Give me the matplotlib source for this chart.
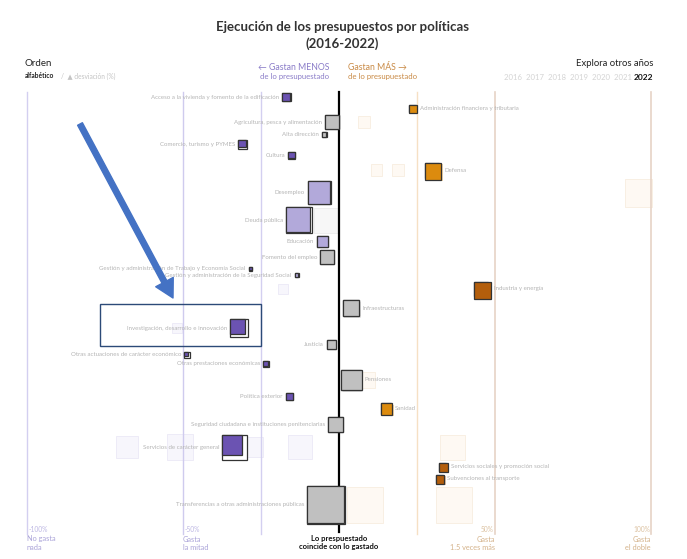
import numpy as np
import matplotlib
matplotlib.use('Agg')
from matplotlib import pyplot as plt
from matplotlib.patches import Rectangle

plt.rcParams['font.family'] = ['Lato', 'DejaVu Sans']

# datos 2022: desviación del gasto respecto a lo presupuestado (%)
categorias = [
    'Acceso a la vivienda y fomento de la edificación',
    'Administración financiera y tributaria',
    'Agricultura, pesca y alimentación',
    'Alta dirección',
    'Comercio, turismo y PYMES',
    'Cultura',
    'Defensa',
    'Desempleo',
    'Deuda pública',
    'Educación',
    'Fomento del empleo',
    'Gestión y administración de Trabajo y Economía Social',
    'Gestión y administración de la Seguridad Social',
    'Industria y energía',
    'Infraestructuras',
    'Investigación, desarrollo e innovación',
    'Justicia',
    'Otras actuaciones de carácter económico',
    'Otras prestaciones económicas',
    'Pensiones',
    'Política exterior',
    'Sanidad',
    'Seguridad ciudadana e instituciones penitenciarias',
    'Servicios de carácter general',
    'Servicios sociales y promoción social',
    'Subvenciones al transporte',
    'Transferencias a otras administraciones públicas',
]
desviacion = [-16.8, 23.6, -2.2, -4.8, -30.9, -15.2, 29.8, -6.2, -12.8, -5.3,
              -3.8, -28.4, -13.6, 45.4, 3.8, -32.0, -2.4, -48.7, -23.4, 4.0,
              -15.9, 15.1, -1.1, -33.5, 33.2, 32.2, -4.2]
# presupuesto (escala relativa, área del cuadrado)
presupuesto = [8, 5, 20, 2.5, 8, 5, 22, 53, 68, 12,
               20, 1.2, 1.6, 20, 25, 32, 8, 3.6, 3.6, 40,
               5.6, 10.6, 22, 62, 6, 6, 144]

# otros años (cuadros tenues)
otros_cat = ['Desempleo', 'Servicios de carácter general', 'Servicios de carácter general',
             'Servicios de carácter general', 'Servicios de carácter general',
             'Servicios de carácter general', 'Transferencias a otras administraciones públicas',
             'Transferencias a otras administraciones públicas', 'Defensa', 'Defensa',
             'Deuda pública', 'Agricultura, pesca y alimentación',
             'Investigación, desarrollo e innovación', 'Industria y energía', 'Pensiones']
otros_desv = [96, -68, -51, -27.6, -12.5, 36.5, 8.3, 37, 12, 19, -4, 8, -52, -18, 9]
otros_pres = [78, 48, 70, 40, 58, 62, 130, 130, 14, 14, 60, 14, 10, 10, 25]

anios = ['2016', '2017', '2018', '2019', '2020', '2021']
anio_actual = '2022'

# escala
PX = 3.12      # pixeles por punto porcentual
X0 = 339       # pixel del 0 %
W, H = 687, 559


def X(px):
    return (px - X0) / PX


def lado(p):
    return np.sqrt(np.array(p) * 10.0)


def color(d):
    if d <= -15:
        return '#6b53b2'
    elif d < -5:
        return '#b2a9da'
    elif d <= 5:
        return '#c0c0c0'
    elif d < 30:
        return '#dc8b0e'
    return '#b35e0c'


fig = plt.figure(figsize=(W / 100, H / 100), dpi=100)
ax = fig.add_axes([0, 0, 1, 1])
ax.set_xlim(X(0), X(W))
ax.set_ylim(H, 0)
ax.axis('off')

desv = np.array(desviacion)
lado_p = lado(presupuesto)
lado_g = lado_p * np.sqrt(1 + desv / 100)
alto = np.maximum(lado_p, lado_g)

# colocación vertical apilada
y_ini, y_fin = 97, 505
sep = (alto[:-1] + alto[1:]) / 2
pad = (y_fin - y_ini - sep.sum()) / len(sep)
fila = np.concatenate([[y_ini], y_ini + np.cumsum(sep + pad)])
fila_de = dict(zip(categorias, fila))

# líneas de referencia
guias = [(-100, '#d3cff0', 1), (-50, '#cfcbee', 1), (-25, '#d3cff0', 1),
         (25, '#f6e0c4', 1), (50, '#e6d3c6', 1.2), (100, '#e6d3c6', 1.2)]
for v, c, lw in guias:
    ax.plot([v, v], [92, 534], color=c, lw=lw, zorder=1)
ax.plot([0, 0], [92, 532], color='black', lw=1.6, zorder=2)

# cuadros de otros años
for c, d, p in zip(otros_cat, otros_desv, otros_pres):
    s = lado(p)
    y = fila_de[c]
    if d < -5:
        fc, ec = '#f7f6fc', '#ebe9f6'
    elif d > 5:
        fc, ec = '#fef9f3', '#f8eddf'
    else:
        fc, ec = '#f7f7f7', '#ececec'
    ax.add_patch(Rectangle((d - s / 2 / PX, y - s / 2), s / PX, s,
                           facecolor=fc, edgecolor=ec, lw=0.6, zorder=0.5))

# cuadros 2022
for nombre, d, sp, sg, h, y in zip(categorias, desv, lado_p, lado_g, alto, fila):
    x_izq = d - sp / 2 / PX
    y_sup = y - sp / 2
    col = color(d)
    if d > 0:
        ax.add_patch(Rectangle((x_izq + 1.5 / PX, y_sup + 1.5), sg / PX, sg,
                               facecolor=col, alpha=0.35, lw=0, zorder=2.5))
    ax.add_patch(Rectangle((x_izq, y_sup), sp / PX, sp, facecolor='white',
                           edgecolor='#333333', lw=0.9, zorder=3))
    ax.add_patch(Rectangle((x_izq, y_sup), sg / PX, sg, facecolor=col,
                           edgecolor='#333333', lw=0.9, zorder=3.1))
    if d < 0:
        ax.text(x_izq - 3 / PX, y, nombre, ha='right', va='center',
                fontsize=4.45, color='#b5b5b5', zorder=4)
    else:
        ax.text(x_izq + h / PX + 3 / PX, y, nombre, ha='left', va='center',
                fontsize=4.45, color='#b5b5b5', zorder=4)

# títulos
ax.text(X(342), 27, 'Ejecución de los presupuestos por políticas', ha='center',
        va='center', fontsize=9.5, fontweight='bold', color='#333333')
ax.text(X(342), 44, '(2016-2022)', ha='center', va='center', fontsize=9.5,
        fontweight='bold', color='#333333')

ax.text(X(25), 64, 'Orden', ha='left', va='center', fontsize=7, color='#222222')
ax.text(X(25), 76, 'alfabético', ha='left', va='center', fontsize=4.8,
        fontweight='bold', color='#222222')
ax.text(X(61), 76, '/  ▲ desviación (%)', ha='left', va='center', fontsize=4.8,
        color='#c4c4c4')

ax.text(X(329), 67, '← Gastan MENOS', ha='right', va='center', fontsize=6.3,
        color='#8a7cc8')
ax.text(X(329), 77, 'de lo presupuestado', ha='right', va='center', fontsize=5.6,
        color='#8a7cc8')
ax.text(X(348), 67, 'Gastan MÁS →', ha='left', va='center', fontsize=6.3,
        color='#c98a45')
ax.text(X(348), 77, 'de lo presupuestado', ha='left', va='center', fontsize=5.6,
        color='#c98a45')

ax.text(X(653), 64, 'Explora otros años', ha='right', va='center', fontsize=6.8,
        color='#222222')
ax.text(X(653), 77, anio_actual, ha='right', va='center', fontsize=6,
        fontweight='bold', color='#111111')
ax.text(X(632), 77, '  '.join(anios), ha='right', va='center', fontsize=5.6,
        color='#d4d4d4')

# pie de ejes
ax.text(X(29), 529, '-100%', ha='left', va='center', fontsize=4.8, color='#bdb7e3')
ax.text(X(27), 539, 'No gasta', ha='left', va='center', fontsize=5.3, color='#a9a2d8')
ax.text(X(27), 547, 'nada', ha='left', va='center', fontsize=5.3, color='#a9a2d8')
ax.text(X(185), 529, '-50%', ha='left', va='center', fontsize=4.8, color='#bdb7e3')
ax.text(X(183), 539, 'Gasta', ha='left', va='center', fontsize=5.3, color='#a9a2d8')
ax.text(X(183), 547, 'la mitad', ha='left', va='center', fontsize=5.3, color='#a9a2d8')
ax.text(X(339), 539, 'Lo prespuestado', ha='center', va='center', fontsize=5.5,
        fontweight='bold', color='#111111')
ax.text(X(339), 547, 'coincide con lo gastado', ha='center', va='center', fontsize=5.5,
        fontweight='bold', color='#111111')
ax.text(X(494), 529, '50%', ha='right', va='center', fontsize=4.8, color='#dcc2a2')
ax.text(X(495), 539, 'Gasta', ha='right', va='center', fontsize=5.3, color='#d4b28a')
ax.text(X(495), 547, '1.5 veces más', ha='right', va='center', fontsize=5.3, color='#d4b28a')
ax.text(X(650), 529, '100%', ha='right', va='center', fontsize=4.8, color='#dcc2a2')
ax.text(X(651), 539, 'Gasta', ha='right', va='center', fontsize=5.3, color='#d4b28a')
ax.text(X(651), 547, 'el doble', ha='right', va='center', fontsize=5.3, color='#d4b28a')

# resaltado
ax.add_patch(Rectangle((X(100), 304), (261 - 100) / PX, 42, fill=False,
                       edgecolor='#2c4a78', lw=1.0, zorder=5))
ax.annotate('', xy=(X(173), 298), xytext=(X(80), 124),
            arrowprops=dict(arrowstyle='simple,head_width=1.1,head_length=1.0,tail_width=0.3',
                            color='#4472c4', mutation_scale=13, shrinkA=0, shrinkB=0),
            zorder=6)

fig.savefig('out.png', dpi=100)
